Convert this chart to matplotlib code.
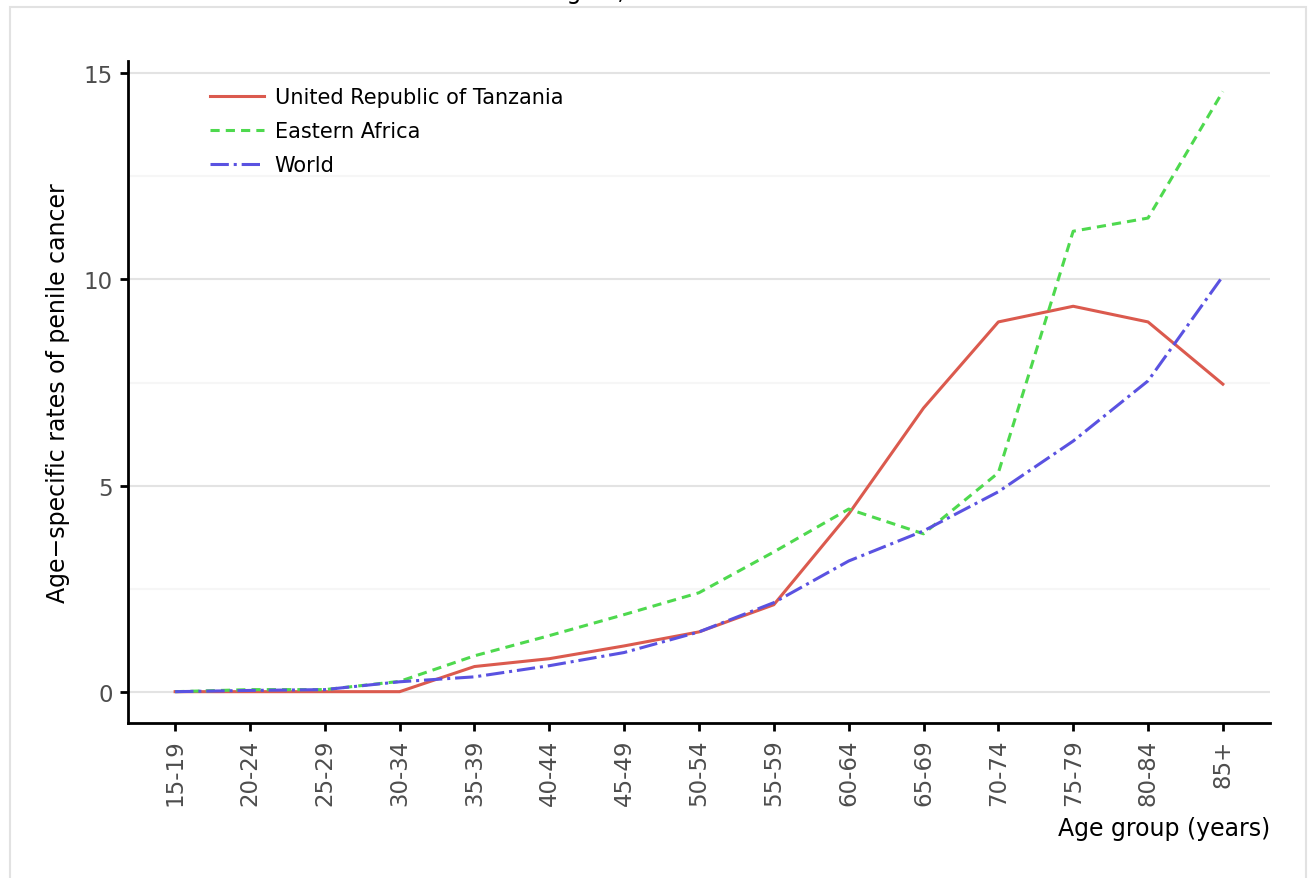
import matplotlib
matplotlib.use('Agg')
import matplotlib.pyplot as plt
from matplotlib.patches import Rectangle

# age groups and rates
age_groups = ['15-19', '20-24', '25-29', '30-34', '35-39', '40-44', '45-49', '50-54',
              '55-59', '60-64', '65-69', '70-74', '75-79', '80-84', '85+']
tanzania = [0, 0, 0, 0, 0.61, 0.80, 1.11, 1.45, 2.11, 4.31, 6.88, 8.97, 9.35, 8.97, 7.46]
eastern_africa = [0, 0.05, 0.05, 0.25, 0.87, 1.36, 1.87, 2.40, 3.39, 4.43, 3.83, 5.31, 11.17, 11.49, 14.56]
world = [0, 0.03, 0.05, 0.24, 0.36, 0.63, 0.95, 1.45, 2.16, 3.17, 3.90, 4.85, 6.08, 7.54, 10.08]

fig = plt.figure(figsize=(13.12, 8.79), dpi=100)
ax = fig.add_axes([128/1312, 1-724/879, (1270-128)/1312, (724-62)/879])

x = range(len(age_groups))
ax.plot(x, tanzania, color='#DB5A4E', lw=2.2, label='United Republic of Tanzania')
ax.plot(x, eastern_africa, color='#4ED94E', lw=2.2, dashes=(3, 2), label='Eastern Africa')
ax.plot(x, world, color='#5A52E1', lw=2.2, dashes=(6, 1.6, 1, 1.6), label='World')

ax.set_xlim(-0.63, 14.63)
ax.set_ylim(-0.76, 15.3)
ax.set_xticks(list(x))
ax.set_xticklabels(age_groups, rotation=90)
ax.set_yticks([0, 5, 10, 15])
ax.set_yticks([2.5, 7.5, 12.5], minor=True)

# grid
ax.grid(True, axis='y', which='major', color='#e3e3e3', lw=1.5)
ax.grid(True, axis='y', which='minor', color='#f6f6f6', lw=1.5)
ax.set_axisbelow(True)
for s in ['top', 'right']:
    ax.spines[s].set_visible(False)
for s in ['left', 'bottom']:
    ax.spines[s].set_linewidth(2)
ax.tick_params(axis='both', which='major', labelsize=16.5, labelcolor='#4d4d4d',
               width=2, length=6, pad=5)
ax.tick_params(axis='y', which='minor', length=0)

ax.set_ylabel('Age\u2212specific rates of penile cancer', fontsize=17, labelpad=10)
ax.set_xlabel('Age group (years)', fontsize=17, loc='right', labelpad=8)

leg = ax.legend(loc='upper left', bbox_to_anchor=(210/1312, 1-88/879),
                bbox_transform=fig.transFigure, frameon=False, fontsize=15,
                handlelength=2.6, handletextpad=0.5, labelspacing=0.68,
                borderpad=0, borderaxespad=0)

# outer frame and clipped title
fig.patches.append(Rectangle((10/1312, -0.1), (1306-10)/1312, 1.1-8/879,
                             transform=fig.transFigure, fill=False,
                             edgecolor='#e2e2e2', lw=1.5, clip_on=False))
fig.text(231/1312, 1+1.5/879, 'Rates in Tanzania and the region, 2020',
         fontsize=17, ha='left', va='baseline')

plt.savefig('out.png', dpi=100)
